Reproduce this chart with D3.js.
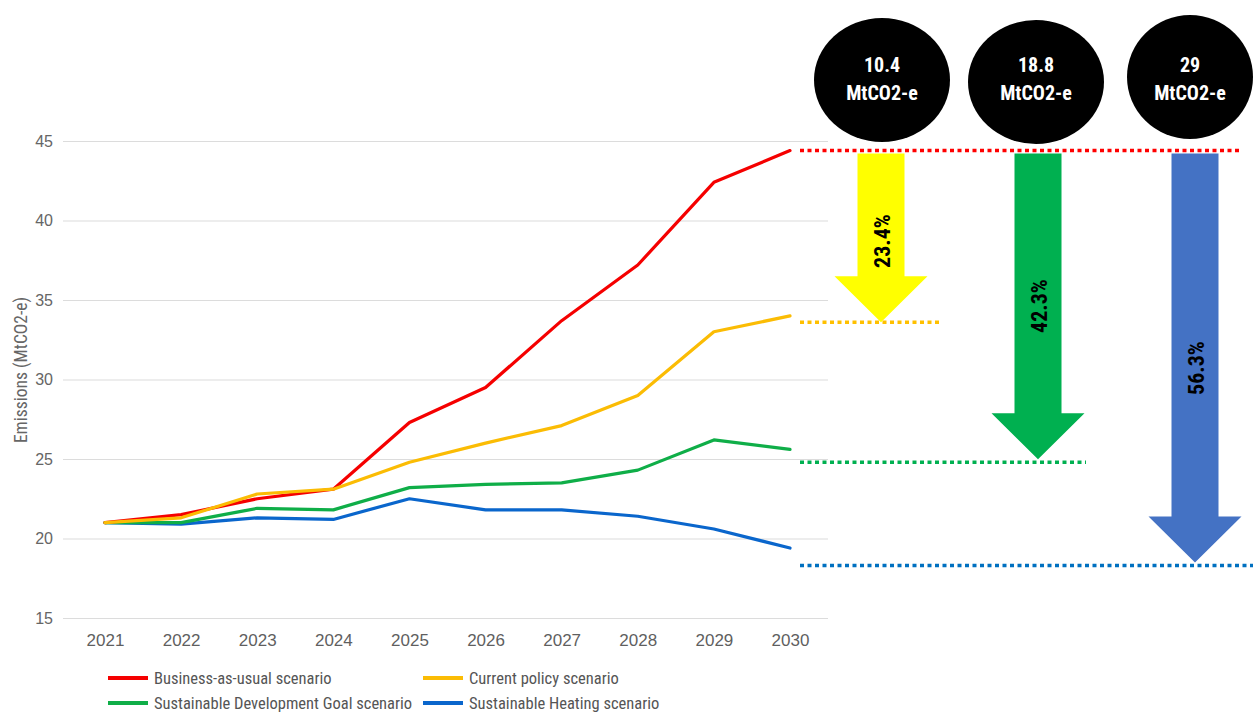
<!DOCTYPE html>
<html>
<head>
<meta charset="utf-8">
<script src="https://cdn.jsdelivr.net/npm/d3@7"></script>
<style>
  html, body { margin: 0; padding: 0; background: #fff; }
  svg { display: block; font-family: "Liberation Sans Narrow", "Roboto Condensed", Roboto, sans-serif; }
</style>
</head>
<body>
<svg id="chart" width="1253" height="713"></svg>
<script>
// Emissions projections by scenario (MtCO2-e)
const years = ["2021","2022","2023","2024","2025","2026","2027","2028","2029","2030"];
const businessAsUsual = [21.0, 21.5, 22.5, 23.1, 27.3, 29.5, 33.7, 37.2, 42.4, 44.4];
const currentPolicy   = [21.0, 21.3, 22.8, 23.1, 24.8, 26.0, 27.1, 29.0, 33.0, 34.0];
const sdgScenario     = [21.0, 21.0, 21.9, 21.8, 23.2, 23.4, 23.5, 24.3, 26.2, 25.6];
const heatingScenario = [21.0, 20.9, 21.3, 21.2, 22.5, 21.8, 21.8, 21.4, 20.6, 19.4];
const yTicks = [15, 20, 25, 30, 35, 40, 45];

const seriesNames  = ["Business-as-usual scenario", "Current policy scenario",
                      "Sustainable Development Goal scenario", "Sustainable Heating scenario"];
const seriesColors = ["#f50000", "#fbbc04", "#0fae48", "#0a66cc"];

// Reduction call-outs relative to business-as-usual in 2030
const reductionLabels   = ["10.4", "18.8", "29"];
const reductionPercents = ["23.4%", "42.3%", "56.3%"];
const baselineLevel     = 44.4;
const reductionLevels   = [33.6, 24.8, 18.3];
const arrowColors       = ["#ffff00", "#00b050", "#4472c4"];
const levelColors       = ["#ffc000", "#00b050", "#0070c0"];

const svg = d3.select("#chart");

const x = d3.scalePoint().domain(years).range([105, 790]);
const y = d3.scaleLinear().domain([15, 45]).range([618, 141]);

// Gridlines + y labels
const yAxis = svg.append("g")
  .attr("transform", "translate(63,0)")
  .call(d3.axisLeft(y).tickValues(yTicks).tickSize(-765).tickPadding(10));
yAxis.select(".domain").remove();
yAxis.selectAll(".tick line").attr("stroke", "#dcdcdc").attr("stroke-width", 1.2);
yAxis.selectAll(".tick text").attr("fill", "#666").style("font-size", "16px");

// x labels
const xAxis = svg.append("g")
  .attr("transform", "translate(0,646)")
  .call(d3.axisBottom(x).tickSize(0));
xAxis.select(".domain").remove();
xAxis.selectAll(".tick text")
  .attr("y", 0).attr("dy", 0)
  .attr("fill", "#5f5f5f").style("font-size", "17px");

// Axis title
svg.append("text")
  .attr("transform", "translate(27,370) rotate(-90)")
  .attr("text-anchor", "middle")
  .attr("fill", "#666")
  .style("font-size", "17.5px")
  .text("Emissions (MtCO2-e)");

// Lines
const seriesData = [businessAsUsual, currentPolicy, sdgScenario, heatingScenario];
const line = d3.line().x((d, i) => x(years[i])).y(d => y(d));
const drawOrder = [3, 2, 0, 1];
drawOrder.forEach(k => {
  svg.append("path")
    .datum(seriesData[k])
    .attr("d", line)
    .attr("fill", "none")
    .attr("stroke", seriesColors[k])
    .attr("stroke-width", 3.2)
    .attr("stroke-linejoin", "round")
    .attr("stroke-linecap", "round");
});

// Legend
const legendPos = [[108, 678], [423, 678], [108, 703], [423, 703]];
seriesNames.forEach((name, i) => {
  const [lx, ly] = legendPos[i];
  svg.append("line")
    .attr("x1", lx).attr("x2", lx + 40).attr("y1", ly).attr("y2", ly)
    .attr("stroke", seriesColors[i]).attr("stroke-width", 4);
  svg.append("text")
    .attr("x", lx + 46).attr("y", ly + 5.5)
    .attr("fill", "#555")
    .style("font-size", "16.5px")
    .text(name);
});

// Dotted reference levels
const dotted = (x1, x2, v, color) => svg.append("line")
  .attr("x1", x1).attr("x2", x2).attr("y1", y(v)).attr("y2", y(v))
  .attr("stroke", color).attr("stroke-width", 3.5).attr("stroke-dasharray", "4,3.5");
dotted(800, 1242, baselineLevel, "#ff0000");
const levelEnds = [939, 1086, 1253];
reductionLevels.forEach((v, i) => dotted(800, levelEnds[i], v, levelColors[i]));

// Arrows from baseline down to each scenario level
const arrowX = [881, 1038, 1195];
const labelY = [241, 306, 368];
const shaftW = 47, headW = 93, headH = 46;
reductionLevels.forEach((v, i) => {
  const cx = arrowX[i];
  const top = y(baselineLevel) + 3;
  const tip = y(v) - (i === 0 ? 0 : 3);
  const hs = tip - headH;
  const pts = [
    [cx - shaftW / 2, top], [cx + shaftW / 2, top], [cx + shaftW / 2, hs],
    [cx + headW / 2, hs], [cx, tip], [cx - headW / 2, hs], [cx - shaftW / 2, hs]
  ];
  svg.append("path")
    .attr("d", "M" + pts.map(p => p.join(",")).join("L") + "Z")
    .attr("fill", arrowColors[i]);
  svg.append("text")
    .attr("transform", `translate(${cx + 9},${labelY[i]}) rotate(-90)`)
    .attr("text-anchor", "middle")
    .attr("fill", "#000")
    .style("font-size", "22px")
    .style("font-weight", "bold")
    .text(reductionPercents[i]);
});

// Black value badges
const badges = [[882, 80, 68, 62], [1036, 82, 68, 62], [1190, 77, 63, 62]];
badges.forEach(([cx, cy, rx, ry], i) => {
  svg.append("ellipse")
    .attr("cx", cx).attr("cy", cy).attr("rx", rx).attr("ry", ry)
    .attr("fill", "#000");
  svg.append("text")
    .attr("x", cx).attr("y", 72)
    .attr("text-anchor", "middle").attr("fill", "#fff")
    .style("font-size", "20px").style("font-weight", "bold")
    .text(reductionLabels[i]);
  svg.append("text")
    .attr("x", cx).attr("y", 100)
    .attr("text-anchor", "middle").attr("fill", "#fff")
    .style("font-size", "20px").style("font-weight", "bold")
    .text("MtCO2-e");
});
</script>
</body>
</html>
